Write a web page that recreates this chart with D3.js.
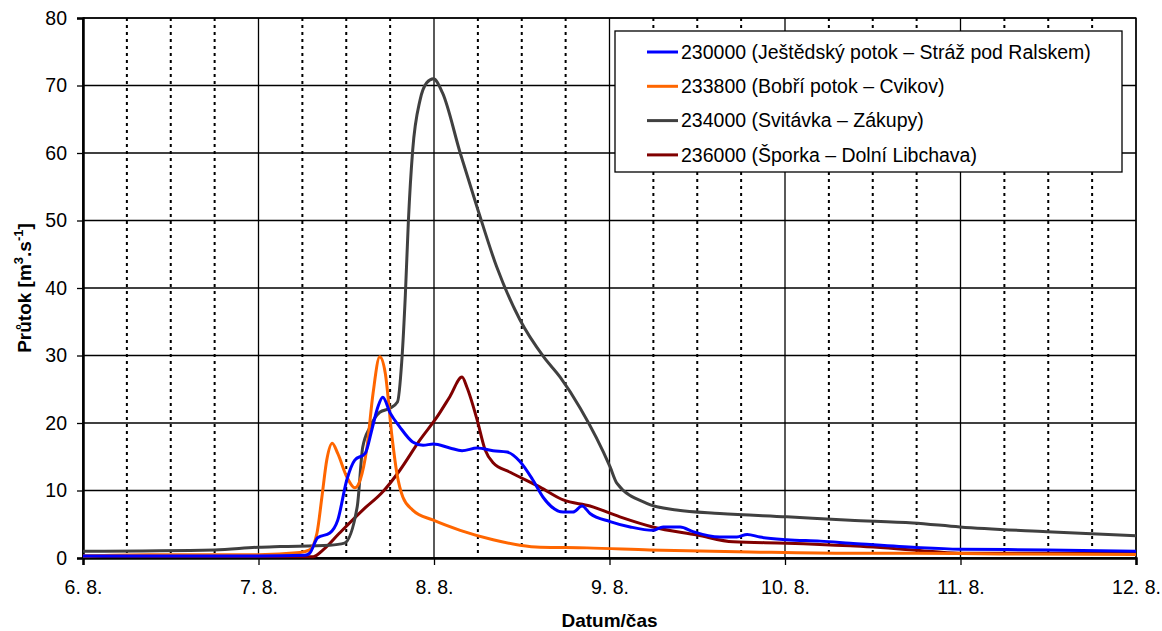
<!DOCTYPE html>
<html>
<head>
<meta charset="utf-8">
<script src="https://cdn.jsdelivr.net/npm/d3@7"></script>
<style>
  body { margin: 0; background: #fff; }
  text { font-family: "Liberation Sans", Arial, sans-serif; }
</style>
</head>
<body>
<div id="chart"></div>
<script>
// series names
var names = [
  "230000 (Ještědský potok – Stráž pod Ralskem)",
  "233800 (Bobří potok – Cvikov)",
  "234000 (Svitávka – Zákupy)",
  "236000 (Šporka – Dolní Libchava)"
];
var colors = ["#0000ff", "#ff6600", "#404040", "#800000"];

// 230000 blue
var blueTime = ["6.8. 00:00", "7.8. 00:00", "7.8. 06:20", "7.8. 07:00", "7.8. 08:05", "7.8. 09:45", "7.8. 10:50", "7.8. 12:05", "7.8. 13:10", "7.8. 14:35", "7.8. 15:30", "7.8. 16:20", "7.8. 17:00", "7.8. 18:00", "7.8. 19:20", "7.8. 21:05", "7.8. 22:30", "7.8. 23:55", "8.8. 02:10", "8.8. 03:50", "8.8. 05:55", "8.8. 08:05", "8.8. 10:00", "8.8. 11:45", "8.8. 13:30", "8.8. 14:55", "8.8. 17:40", "8.8. 19:00", "8.8. 20:15", "8.8. 21:20", "9.8. 00:05", "9.8. 02:50", "9.8. 05:55", "9.8. 07:20", "9.8. 09:40", "9.8. 11:25", "9.8. 15:05", "9.8. 17:25", "9.8. 18:50", "9.8. 20:35", "10.8. 00:15", "10.8. 04:50", "10.8. 08:55", "10.8. 17:30", "10.8. 23:55", "11.8. 11:50", "12.8. 00:00"];
var blueVal = [0.3, 0.3, 0.4, 0.7, 3.0, 3.7, 5.6, 11.6, 14.5, 15.5, 19.0, 22.4, 23.8, 21.5, 19.4, 17.2, 16.7, 16.9, 16.3, 15.9, 16.3, 15.9, 15.7, 14.3, 11.6, 9.0, 6.8, 6.8, 7.7, 6.6, 5.4, 4.6, 4.1, 4.6, 4.6, 3.9, 3.1, 3.1, 3.5, 3.1, 2.7, 2.5, 2.2, 1.6, 1.3, 1.2, 1.0];

// 233800 orange
var orangeTime = ["6.8. 00:00", "6.8. 09:00", "7.8. 00:00", "7.8. 05:40", "7.8. 07:00", "7.8. 08:00", "7.8. 08:40", "7.8. 09:20", "7.8. 10:05", "7.8. 10:50", "7.8. 12:05", "7.8. 13:10", "7.8. 13:55", "7.8. 14:50", "7.8. 15:40", "7.8. 16:35", "7.8. 17:20", "7.8. 18:15", "7.8. 18:55", "7.8. 19:45", "7.8. 21:05", "7.8. 23:55", "8.8. 03:35", "8.8. 08:05", "8.8. 11:45", "8.8. 14:30", "8.8. 20:55", "9.8. 05:30", "9.8. 19:10", "10.8. 08:55", "10.8. 17:30", "11.8. 05:25", "12.8. 00:00"];
var orangeVal = [0.3, 0.5, 0.5, 0.8, 1.2, 3.7, 9.0, 14.5, 17.0, 15.5, 12.0, 10.4, 11.6, 16.4, 24.4, 29.8, 27.4, 18.0, 12.6, 9.0, 7.1, 5.6, 4.1, 2.7, 1.9, 1.6, 1.5, 1.2, 0.9, 0.7, 0.7, 0.6, 0.5];

// 234000 dark grey
var greyTime = ["6.8. 00:00", "6.8. 18:00", "7.8. 00:00", "7.8. 03:00", "7.8. 09:45", "7.8. 11:45", "7.8. 13:30", "7.8. 14:15", "7.8. 15:15", "7.8. 16:35", "7.8. 18:00", "7.8. 19:00", "7.8. 19:35", "7.8. 20:05", "7.8. 20:30", "7.8. 21:05", "7.8. 22:05", "7.8. 23:00", "7.8. 23:55", "8.8. 01:10", "8.8. 03:35", "8.8. 06:00", "8.8. 08:35", "8.8. 11:45", "8.8. 15:00", "8.8. 17:15", "8.8. 20:00", "9.8. 00:05", "9.8. 01:00", "9.8. 05:05", "9.8. 09:10", "9.8. 15:05", "10.8. 00:15", "10.8. 08:55", "10.8. 17:30", "10.8. 23:55", "11.8. 11:50", "12.8. 00:00"];
var greyVal = [1.0, 1.2, 1.6, 1.7, 1.9, 2.2, 7.6, 16.4, 19.4, 21.6, 22.2, 23.1, 29.0, 39.0, 50.0, 60.4, 67.8, 70.4, 71.0, 68.9, 60.0, 51.6, 43.1, 35.3, 29.8, 26.8, 22.2, 13.5, 11.1, 8.1, 7.1, 6.6, 6.1, 5.6, 5.2, 4.6, 3.9, 3.3];

// 236000 maroon
var maroonTime = ["6.8. 00:00", "7.8. 07:30", "7.8. 08:50", "7.8. 11:05", "7.8. 14:15", "7.8. 17:00", "7.8. 19:20", "7.8. 22:05", "8.8. 00:25", "8.8. 02:10", "8.8. 03:50", "8.8. 04:30", "8.8. 05:55", "8.8. 07:00", "8.8. 08:05", "8.8. 10:25", "8.8. 14:30", "8.8. 17:40", "8.8. 21:20", "9.8. 01:25", "9.8. 05:55", "9.8. 12:00", "9.8. 16:55", "10.8. 00:15", "10.8. 08:55", "10.8. 17:30", "10.8. 23:55", "12.8. 00:00"];
var maroonVal = [0.3, 0.2, 1.2, 3.7, 7.1, 9.8, 13.0, 17.5, 20.9, 23.9, 26.8, 25.3, 20.4, 16.0, 14.1, 12.7, 10.5, 8.6, 7.7, 6.1, 4.6, 3.4, 2.4, 2.2, 1.8, 1.2, 0.7, 0.7];

// axis ticks
var dayTicks = ["6.8.", "7.8.", "8.8.", "9.8.", "10.8.", "11.8.", "12.8."];
var yTicks = [0, 10, 20, 30, 40, 50, 60, 70, 80];

var W = 1162, H = 631;
var margin = { top: 18, right: 26, bottom: 73, left: 83 },
  width = W - margin.left - margin.right,
  height = H - margin.top - margin.bottom;

var parseTime = d3.timeParse("%d.%m. %H:%M");
var parseDay = d3.timeParse("%d.%m.");
var fmtDay = d3.timeFormat("%-d. %-m.");

var svg = d3.select("#chart").append("svg")
  .attr("width", W).attr("height", H);
var g = svg.append("g")
  .attr("transform", "translate(" + margin.left + "," + margin.top + ")");

var days = dayTicks.map(parseDay);
var x = d3.scaleTime().domain([days[0], days[days.length - 1]]).range([0, width]);
var y = d3.scaleLinear().domain([0, 80]).range([height, 0]);

// dotted 6-hour grid
var quarters = d3.timeHour.every(6).range(days[0], days[days.length - 1])
  .filter(function (d) { return d.getHours() !== 0; });
g.selectAll(".qgrid").data(quarters).enter().append("line")
  .attr("x1", x).attr("x2", x).attr("y1", 0).attr("y2", height)
  .attr("stroke", "#000").attr("stroke-width", 2).attr("stroke-dasharray", "3,4");

// solid day grid
g.selectAll(".dgrid").data(days).enter().append("line")
  .attr("x1", x).attr("x2", x).attr("y1", 0).attr("y2", height)
  .attr("stroke", "#000").attr("stroke-width", 1.3);

// horizontal grid
g.selectAll(".hgrid").data(yTicks).enter().append("line")
  .attr("x1", 0).attr("x2", width).attr("y1", y).attr("y2", y)
  .attr("stroke", "#000").attr("stroke-width", 1.3);

// plot frame
g.append("rect").attr("width", width).attr("height", height)
  .attr("fill", "none").attr("stroke", "#000").attr("stroke-width", 1.3);

// axes
var xAxis = g.append("g").attr("transform", "translate(0," + height + ")")
  .call(d3.axisBottom(x).tickValues(days).tickFormat(fmtDay).tickSize(7).tickPadding(15));
var yAxis = g.append("g")
  .call(d3.axisLeft(y).tickValues(yTicks).tickSize(6).tickPadding(10));
[xAxis, yAxis].forEach(function (a) {
  a.attr("font-size", 19.5).attr("font-family", "'Liberation Sans', Arial, sans-serif");
  a.select(".domain").attr("stroke-width", 2.5);
  a.selectAll(".tick line").attr("stroke-width", 1.3);
  a.selectAll("text").attr("fill", "#000");
});

// lines
var dataset = [
  { name: names[0], color: colors[0], t: blueTime, v: blueVal },
  { name: names[1], color: colors[1], t: orangeTime, v: orangeVal },
  { name: names[2], color: colors[2], t: greyTime, v: greyVal },
  { name: names[3], color: colors[3], t: maroonTime, v: maroonVal }
];
var line = d3.line()
  .x(function (d) { return x(d.date); })
  .y(function (d) { return y(d.value); })
  .curve(d3.curveMonotoneX);

// draw order: maroon, grey, orange, blue on top like the original
[3, 2, 1, 0].forEach(function (i) {
  var s = dataset[i];
  var pts = s.t.map(function (t, k) { return { date: parseTime(t), value: s.v[k] }; });
  g.append("path").datum(pts)
    .attr("fill", "none")
    .attr("stroke", s.color)
    .attr("stroke-width", 3)
    .attr("stroke-linejoin", "round")
    .attr("d", line);
});

// axis titles
svg.append("text")
  .attr("x", margin.left + width / 2).attr("y", 627)
  .attr("text-anchor", "middle")
  .attr("font-size", 19).attr("font-weight", "bold")
  .text("Datum/čas");

var yt = svg.append("text")
  .attr("transform", "translate(31," + (margin.top + height / 2) + ") rotate(-90)")
  .attr("text-anchor", "middle")
  .attr("font-size", 19).attr("font-weight", "bold");
yt.append("tspan").text("Průtok [m");
yt.append("tspan").attr("font-size", 13).attr("dy", -8).text("3");
yt.append("tspan").attr("dy", 8).text(".s");
yt.append("tspan").attr("font-size", 13).attr("dy", -8).text("-1");
yt.append("tspan").attr("dy", 8).text("]");

// legend
var legend = svg.append("g").attr("transform", "translate(615,31)");
legend.append("rect")
  .attr("width", 507).attr("height", 141)
  .attr("fill", "#fff").attr("stroke", "#000").attr("stroke-width", 1.3);
var items = legend.selectAll(".item").data(dataset).enter().append("g")
  .attr("transform", function (d, i) { return "translate(0," + (21 + i * 34.3) + ")"; });
items.append("line")
  .attr("x1", 32).attr("x2", 63)
  .attr("stroke", function (d) { return d.color; })
  .attr("stroke-width", 3);
items.append("text")
  .attr("x", 66).attr("dy", "0.35em")
  .attr("font-size", 19.5)
  .text(function (d) { return d.name; });
</script>
</body>
</html>
